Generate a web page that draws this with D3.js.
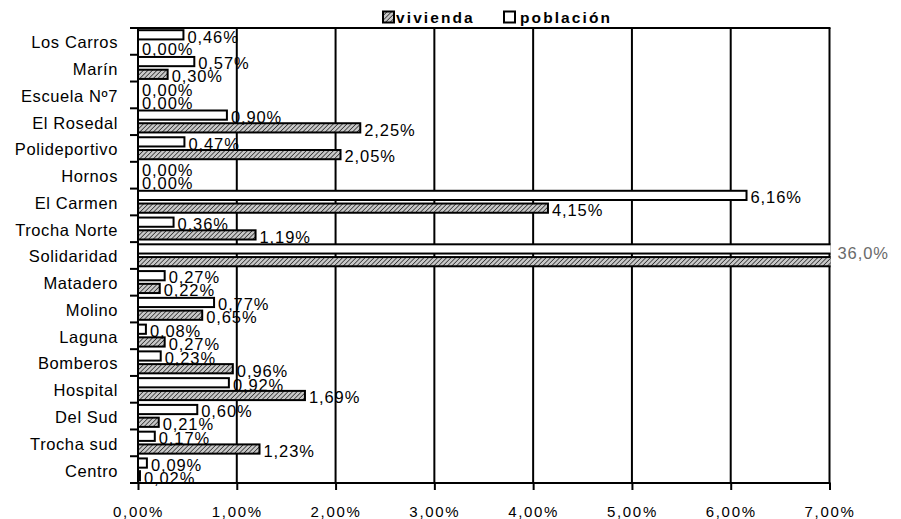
<!DOCTYPE html>
<html>
<head>
<meta charset="utf-8">
<script src="https://cdn.jsdelivr.net/npm/d3@7"></script>
<style>
  html, body { margin: 0; padding: 0; background: #fff; }
  svg { display: block; }
  text { font-family: "Liberation Sans", Arial, Helvetica, sans-serif; fill: #000; }
</style>
</head>
<body>
<svg id="chart" width="901" height="519"></svg>
<script>
// ---- data ----
const categories = ["Los Carros", "Marín", "Escuela Nº7", "El Rosedal", "Polideportivo", "Hornos",
  "El Carmen", "Trocha Norte", "Solidaridad", "Matadero", "Molino", "Laguna", "Bomberos",
  "Hospital", "Del Sud", "Trocha sud", "Centro"];
const seriesNames = ["población", "vivienda"];
const poblacion = [0.46, 0.57, 0.00, 0.90, 0.47, 0.00, 6.16, 0.36, 36.0, 0.27, 0.77, 0.08, 0.23, 0.92, 0.60, 0.17, 0.09];
const vivienda  = [0.00, 0.30, 0.00, 2.25, 2.05, 0.00, 4.15, 1.19, 36.0, 0.22, 0.65, 0.27, 0.96, 1.69, 0.21, 1.23, 0.02];
const xTicks = [0, 1, 2, 3, 4, 5, 6, 7];
const legendLabels = ["vivienda", "población"];

const fmtPct = v => v.toFixed(2).replace(".", ",") + "%";
const fmtBig = v => v.toFixed(1).replace(".", ",") + "%";

// ---- layout ----
const svg = d3.select("#chart");
const mLeft = 138, mRight = 829.5, mTop = 28, mBottom = 483;

const x = d3.scaleLinear().domain([0, 7]).range([mLeft, mRight]);
const y = d3.scaleBand().domain(categories).range([mTop, mBottom]).paddingInner(0).paddingOuter(0);
const yInner = d3.scaleBand().domain(seriesNames).range([1.2, y.bandwidth() - 1.6]).paddingInner(0.12);

const data = categories.map((c, i) => ({ cat: c, values: [
  { s: "población", v: poblacion[i] },
  { s: "vivienda", v: vivienda[i] }
]}));

// hatch pattern
const defs = svg.append("defs");
const pat = defs.append("pattern").attr("id", "hatch").attr("patternUnits", "userSpaceOnUse")
  .attr("width", 3.2).attr("height", 3.2).attr("patternTransform", "rotate(45)");
pat.append("rect").attr("width", 3.2).attr("height", 3.2).attr("fill", "#c8c8c8");
pat.append("line").attr("x1", 0).attr("y1", 0).attr("x2", 0).attr("y2", 3.2)
  .attr("stroke", "#333").attr("stroke-width", 1.6);
defs.append("clipPath").attr("id", "plotclip").append("rect")
  .attr("x", mLeft - 2).attr("y", 0).attr("width", mRight - mLeft + 3).attr("height", 519);

// gridlines
svg.append("g").selectAll("line").data(xTicks.slice(1)).join("line")
  .attr("x1", d => x(d)).attr("x2", d => x(d)).attr("y1", mTop).attr("y2", mBottom)
  .attr("stroke", "#000").attr("stroke-width", 2);
// top border
svg.append("line").attr("x1", mLeft).attr("x2", mRight + 1).attr("y1", mTop).attr("y2", mTop)
  .attr("stroke", "#000").attr("stroke-width", 2);

// bars
const plot = svg.append("g").attr("clip-path", "url(#plotclip)");
const groups = plot.selectAll("g.cat").data(data).join("g")
  .attr("transform", d => `translate(0,${y(d.cat)})`);
groups.selectAll("rect").data(d => d.values).join("rect")
  .attr("x", x(0))
  .attr("y", d => yInner(d.s) + 1)
  .attr("width", d => Math.max(0, x(Math.min(d.v, 7.2)) - x(0)))
  .attr("height", yInner.bandwidth() - 2)
  .attr("fill", d => d.s === "vivienda" ? "url(#hatch)" : "#fff")
  .attr("stroke", "#000").attr("stroke-width", 2);

// value labels
const labelG = svg.append("g");
data.forEach(d => {
  let bigDone = false;
  d.values.forEach(v => {
    const cy = y(d.cat) + yInner(v.s) + yInner.bandwidth() / 2 + 1.8;
    if (v.v <= 7) {
      labelG.append("text")
        .attr("x", x(v.v) + 4).attr("y", cy)
        .attr("dominant-baseline", "central")
        .attr("font-size", 16.5).attr("letter-spacing", 0.9)
        .text(fmtPct(v.v));
    } else if (!bigDone) {
      bigDone = true;
      labelG.append("text")
        .attr("x", mRight + 8).attr("y", cy + 2)
        .attr("dominant-baseline", "central")
        .attr("font-size", 16.5).attr("letter-spacing", 0.9)
        .style("fill", "#6a6a6a")
        .text(fmtBig(v.v));
    }
  });
});

// y axis (labels)
const yAxis = svg.append("g").attr("transform", `translate(${mLeft},0)`)
  .call(d3.axisLeft(y).tickSize(0).tickPadding(20));
yAxis.select(".domain").remove();
yAxis.selectAll("text").attr("font-size", 16.5).attr("letter-spacing", 0.6)
  .attr("dy", "0.42em").style("font-family", "'Liberation Sans', Arial, sans-serif");
// category boundary ticks
const bounds = categories.map(c => y(c)).concat([mBottom]);
svg.append("g").selectAll("line").data(bounds).join("line")
  .attr("x1", mLeft - 8).attr("x2", mLeft).attr("y1", d => d).attr("y2", d => d)
  .attr("stroke", "#000").attr("stroke-width", 2);
svg.append("line").attr("x1", mLeft).attr("x2", mLeft).attr("y1", mTop - 1).attr("y2", mBottom + 1)
  .attr("stroke", "#000").attr("stroke-width", 2);

// x axis
const xAxis = svg.append("g").attr("transform", `translate(0,${mBottom})`)
  .call(d3.axisBottom(x).tickValues(xTicks).tickSize(7).tickPadding(16).tickFormat(fmtPct));
xAxis.select(".domain").remove();
xAxis.selectAll("line").attr("stroke", "#000").attr("stroke-width", 2);
xAxis.selectAll("text").attr("font-size", 15).attr("letter-spacing", 1.7)
  .style("font-family", "'Liberation Sans', Arial, sans-serif");
svg.append("line").attr("x1", mLeft - 8).attr("x2", mRight + 1).attr("y1", mBottom).attr("y2", mBottom)
  .attr("stroke", "#000").attr("stroke-width", 2);

// legend
const leg = svg.append("g");
const legItems = [
  { label: legendLabels[0], fill: "url(#hatch)", bx: 383, tx: 396 },
  { label: legendLabels[1], fill: "#fff", bx: 504, tx: 520 }
];
legItems.forEach(it => {
  leg.append("rect").attr("x", it.bx).attr("y", 11.5).attr("width", 11).attr("height", 11)
    .attr("fill", it.fill).attr("stroke", "#000").attr("stroke-width", 2);
  leg.append("text").attr("x", it.tx).attr("y", 22.5)
    .attr("font-size", 15.5).attr("font-weight", "bold").attr("letter-spacing", 2.1)
    .text(it.label);
});
</script>
</body>
</html>
